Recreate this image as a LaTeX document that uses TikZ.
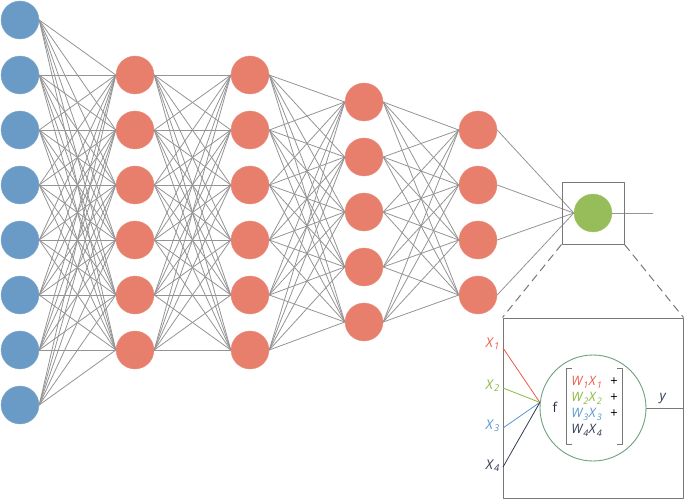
\documentclass[tikz,border=0pt]{standalone}
\usepackage{fontspec}
\setmainfont{Open Sans}
\usepackage{xcolor}
\usepackage{tikz}
\usetikzlibrary{calc}
\definecolor{nnblue}{RGB}{106,155,198}
\definecolor{nnred}{RGB}{232,126,108}
\definecolor{nngreen}{RGB}{150,189,90}
\definecolor{nnwire}{RGB}{148,148,148}
\definecolor{nnbox}{RGB}{120,120,120}
\definecolor{nnring}{RGB}{110,160,125}
\definecolor{txred}{RGB}{234,92,74}
\definecolor{txgreen}{RGB}{138,185,62}
\definecolor{txblue}{RGB}{88,152,208}
\definecolor{txdark}{RGB}{46,58,84}
\newcommand{\sv}[2]{\textit{#1}\textsubscript{\textit{#2}}}
\tikzset{
  unit/.style={circle, minimum size=38pt, inner sep=0pt, line width=0.4pt},
  inpnode/.style={unit, fill=nnblue, draw=nnblue!85!white},
  hidnode/.style={unit, fill=nnred, draw=nnred!85!white},
  outnode/.style={unit, fill=nngreen, draw=nngreen!85!white},
  wire/.style={draw=nnwire, line width=0.8pt},
  zbox/.style={draw=nnbox, line width=1pt, inner sep=0pt},
  zoomline/.style={draw=nnbox, line width=1pt, dash pattern=on 8pt off 5pt},
  xlabel/.style={font=\fontsize{13.5}{15}\selectfont, anchor=east, inner sep=1pt},
  term/.style={font=\fontsize{13}{16}\selectfont, inner sep=0pt, align=left},
  brk/.style={draw=nnbox, line width=0.9pt},
  every picture/.append style={line join=round}
}
\begin{document}
\begin{tikzpicture}[x=1pt,y=-1pt]
  \useasboundingbox (0,0) rectangle (685,500);
  % layers
  \foreach \i in {1,...,8}
    \node[inpnode] (in\i) at (20,{20+55*(\i-1)}) {};
  \foreach \i in {1,...,6} {
    \node[hidnode] (ha\i) at (135,{75+55*(\i-1)}) {};
    \node[hidnode] (hb\i) at (250,{75+55*(\i-1)}) {};
  }
  \foreach \i in {1,...,5}
    \node[hidnode] (hc\i) at (364,{102+55*(\i-1)}) {};
  \foreach \i in {1,...,4}
    \node[hidnode] (hd\i) at (478,{130+55*(\i-1)}) {};
  \node[outnode] (out) at (593,213) {};
  % connections
  \foreach \i in {1,...,8}
    \foreach \j in {1,...,6}
      \draw[wire] (in\i.east) -- (ha\j.west);
  \foreach \i in {1,...,6}
    \foreach \j in {1,...,6}
      \draw[wire] (ha\i.east) -- (hb\j.west);
  \foreach \i in {1,...,6}
    \foreach \j in {1,...,5}
      \draw[wire] (hb\i.east) -- (hc\j.west);
  \foreach \i in {1,...,5}
    \foreach \j in {1,...,4}
      \draw[wire] (hc\i.east) -- (hd\j.west);
  \foreach \i in {1,...,4}
    \draw[wire] (hd\i.east) -- (out.west);
  \coordinate (outend) at (653,213);
  \draw[wire] (out.east) -- (outend);
  % zoom into the output unit
  \node[zbox, minimum size=62] (zoom) at (593,213) {};
  \node[zbox, minimum width=180, minimum height=180] (detail) at (593,408) {};
  \draw[zoomline] (zoom.south west) -- (detail.north west);
  \draw[zoomline] (zoom.south east) -- (detail.north east);
  \node[circle, draw=nnring, line width=0.9pt, minimum size=106, inner sep=0pt] (neuron) at (593,408) {};
  \coordinate (x1s) at (503,348);
  \coordinate (x2s) at (503,388);
  \coordinate (x3s) at (503,428);
  \coordinate (x4s) at (503,467);
  \node[xlabel, text=txred] (x1) at (501,344) {\sv{X}{1}};
  \node[xlabel, text=txgreen] (x2) at (501,386) {\sv{X}{2}};
  \node[xlabel, text=txblue] (x3) at (501,426) {\sv{X}{3}};
  \node[xlabel, text=txdark] (x4) at (501,466) {\sv{X}{4}};
  \draw[draw=txred, line width=0.8pt] (x1s) -- (neuron.174);
  \draw[draw=txgreen, line width=0.8pt] (x2s) -- (neuron.174);
  \draw[draw=txblue, line width=0.8pt] (x3s) -- (neuron.174);
  \draw[draw=txdark, line width=0.8pt] (x4s) -- (neuron.174);
  \node[font=\fontsize{13.5}{15}\selectfont, text=txdark!80!black] (f) at (555,407) {f};
  \node[term, minimum width=55, minimum height=75] (sum) at (594.5,406.5) {%
    \begin{tabular}{@{}l@{\hspace{8pt}}c@{}}
      \textcolor{txred}{\sv{W}{1}\sv{X}{1}} & + \\
      \textcolor{txgreen}{\sv{W}{2}\sv{X}{2}} & + \\
      \textcolor{txblue}{\sv{W}{3}\sv{X}{3}} & + \\
      \textcolor{txdark}{\sv{W}{4}\sv{X}{4}} & \\
    \end{tabular}};
  \draw[brk] ([xshift=5pt]sum.north west) -- (sum.north west) -- (sum.south west) -- ([xshift=5pt]sum.south west);
  \draw[brk] ([xshift=-5pt]sum.north east) -- (sum.north east) -- (sum.south east) -- ([xshift=-5pt]sum.south east);
  \coordinate (yend) at (detail.east |- neuron.east);
  \draw[wire, draw=nnbox, line width=1pt] (neuron.east) -- (yend);
  \node[font=\fontsize{13.5}{15}\selectfont, text=txdark] (ylab) at (663,399) {\textit{y}};
\end{tikzpicture}
\end{document}
